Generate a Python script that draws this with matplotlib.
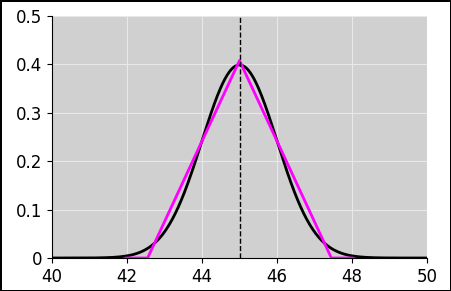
import numpy as np
import matplotlib
matplotlib.use("Agg")
import matplotlib.pyplot as plt

# normal curve parameters
mu = 45.0
sigma = 1.0

# magenta triangular outline
tri_x = [42.0, 42.55, 45.0, 47.45, 48.0]
tri_y = [0.0, 0.0, 0.408, 0.0, 0.0]

xticks = [40, 42, 44, 46, 48, 50]
yticks = [0, 0.1, 0.2, 0.3, 0.4, 0.5]

x = np.linspace(40, 50, 500)
pdf = np.exp(-0.5 * ((x - mu) / sigma) ** 2) / (sigma * np.sqrt(2 * np.pi))

fig = plt.figure(figsize=(4.51, 2.91), dpi=100, edgecolor="black", linewidth=2)
ax = fig.add_axes([52 / 451, 33 / 291, 375 / 451, 242 / 291])
ax.set_facecolor("#d0d0d0")
ax.grid(True, color="#e8e8e8", linewidth=0.8)
ax.set_axisbelow(True)

ax.plot(x, pdf, color="black", linewidth=2)
ax.plot(tri_x, tri_y, color="#ff00ff", linewidth=2)
ax.axvline(mu, color="black", linestyle="--", linewidth=1)

ax.set_xlim(40, 50)
ax.set_ylim(0, 0.5)
ax.set_xticks(xticks)
ax.set_yticks(yticks)
ax.set_xticklabels([str(t) for t in xticks])
ax.set_yticklabels(["0", "0.1", "0.2", "0.3", "0.4", "0.5"])
ax.tick_params(labelsize=12)
for s in ["top", "right"]:
    ax.spines[s].set_visible(False)

fig.savefig("out.png", dpi=100, edgecolor="black")
